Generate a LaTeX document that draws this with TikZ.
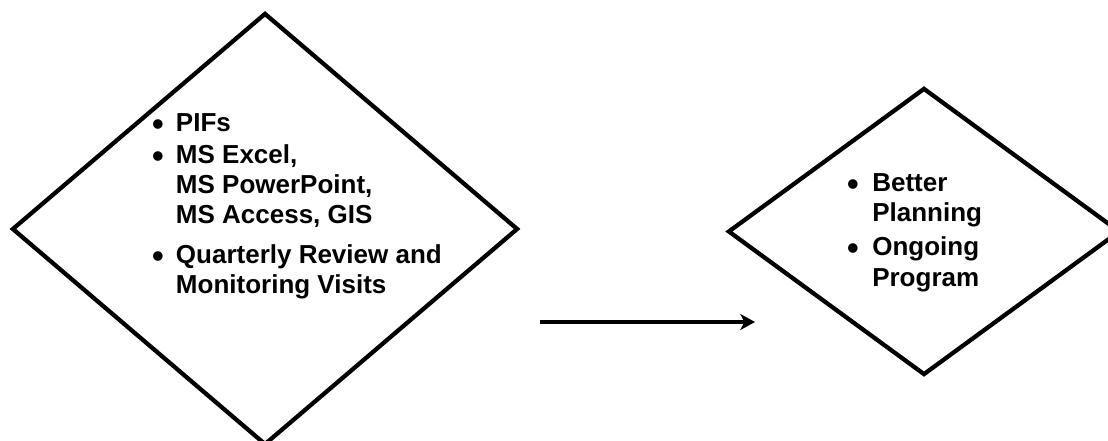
\documentclass[tikz,border=0pt]{standalone}
\usepackage{fontspec}
\setmainfont{Liberation Sans}
\usetikzlibrary{shapes.geometric,arrows.meta}
\begin{document}
\begin{tikzpicture}[x=0.75pt,y=-0.75pt,
  dia/.style={draw, line width=3.2pt, shape=diamond, inner sep=0pt},
  txt/.style={anchor=base west, inner sep=0pt, font=\bfseries\fontsize{19.5}{22.5}\selectfont},
  bul/.style={anchor=base, inner sep=0pt, yshift=-3pt, font=\bfseries\fontsize{25}{25}\selectfont},
  conn/.style={line width=3pt, -{Stealth[length=11pt, width=12pt, inset=3pt]}}]
\path[use as bounding box] (0,0) rectangle (1108,441);
\clip (0,0) rectangle (1108,441);
% diamonds
\node[dia, minimum width=379.5pt, minimum height=324pt] (d1) at (265,229) {};
\node[dia, minimum width=294pt, minimum height=215.25pt] (d2) at (924,231.5) {};
% left text
\node[bul] (b1) at (158,132) {•};
\node[txt] (t1) at (175.7,132) {PIFs};
\node[bul] (b2) at (158,164) {•};
\node[txt] (t2) at (175.7,164) {MS Excel,};
\node[txt] (t3) at (175.7,194) {MS PowerPoint,};
\node[txt] (t4) at (175.7,224) {MS Access, GIS};
\node[bul] (b3) at (158,263.3) {•};
\node[txt] (t5) at (175.7,263.3) {Quarterly Review and};
\node[txt] (t6) at (175.7,293.3) {Monitoring Visits};
% right text
\node[bul] (b4) at (853,191.5) {•};
\node[txt] (r1) at (872,191.5) {Better};
\node[txt] (r2) at (872,222) {Planning};
\node[bul] (b5) at (853,256) {•};
\node[txt] (r3) at (872,256) {Ongoing};
\node[txt] (r4) at (872,287) {Program};
% arrow
\coordinate (as) at (540,322);
\coordinate (ae) at (755,322);
\draw[conn] (as) -- (ae);
\end{tikzpicture}
\end{document}
